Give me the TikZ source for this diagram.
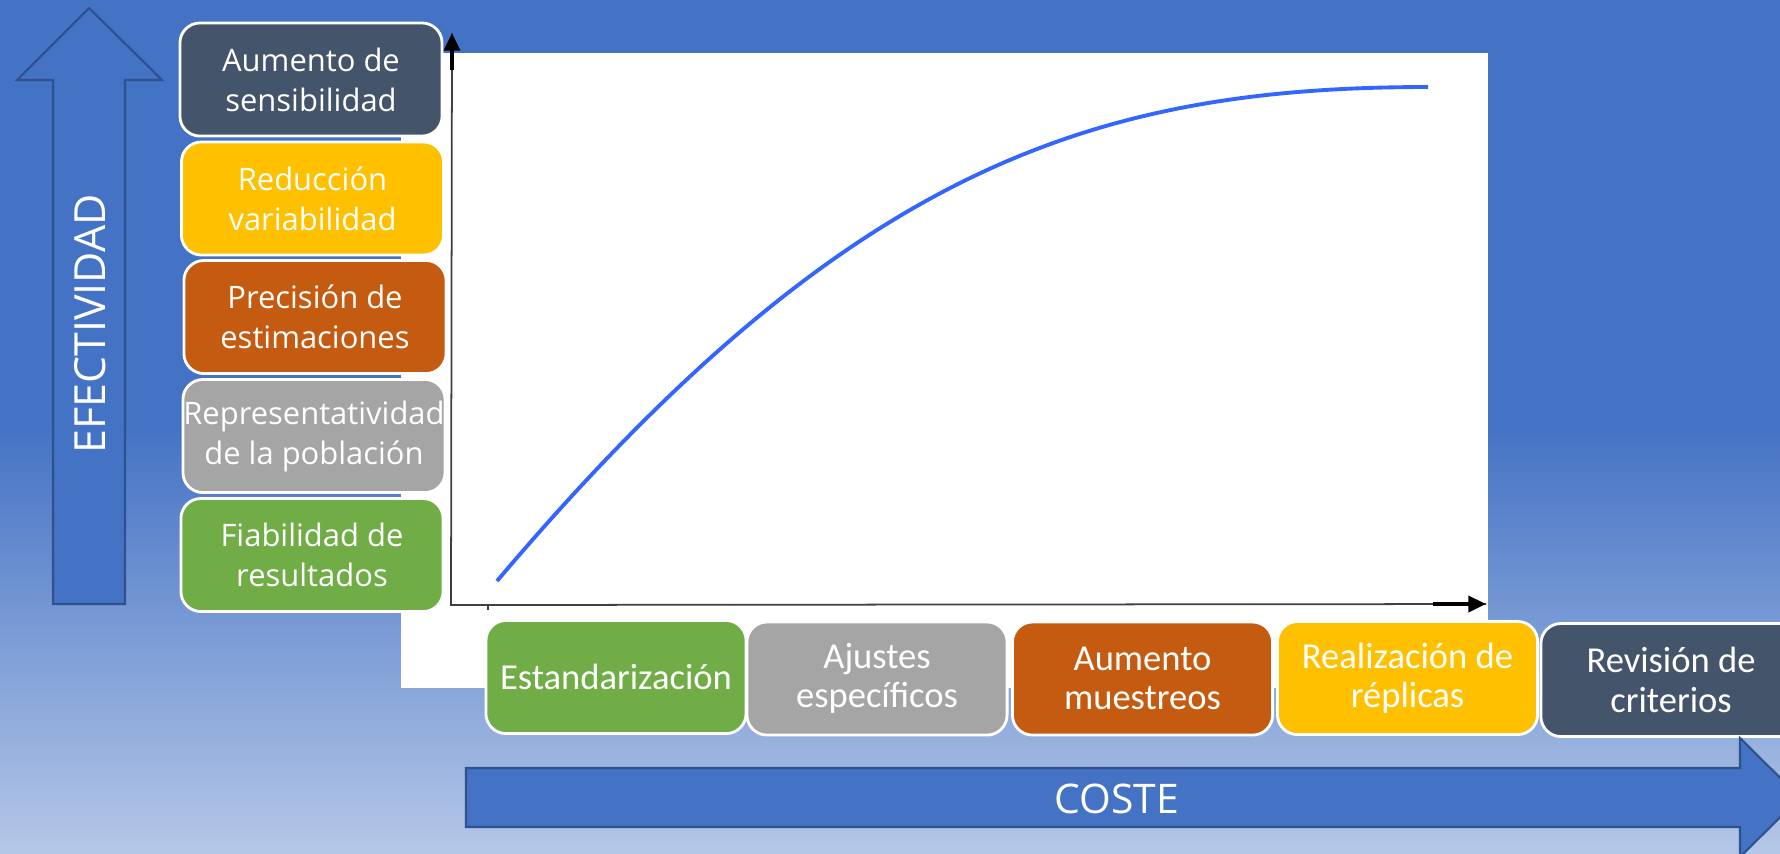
\documentclass[tikz,border=0pt]{standalone}
\usepackage{fontspec}
\setmainfont{Open Sans}
\newfontfamily\calfont{Carlito}
\usetikzlibrary{arrows.meta}

\definecolor{bgblue}{HTML}{4472C4}
\definecolor{bglight}{HTML}{B4C7E7}
\definecolor{edgeblue}{HTML}{2F528F}
\definecolor{boxdark}{HTML}{44546A}
\definecolor{boxgold}{HTML}{FFC000}
\definecolor{boxorange}{HTML}{C55A11}
\definecolor{boxgray}{HTML}{A5A5A5}
\definecolor{boxgreen}{HTML}{70AD47}
\definecolor{curveblue}{HTML}{3366FF}
\definecolor{axisgray}{HTML}{404040}

\tikzset{
  leftbox/.style={draw=white, line width=0.8pt, rounded corners=0.2cm, text=white,
    align=center, inner sep=0pt, minimum width=2.62cm, minimum height=1.13cm,
    font=\fontsize{8.8}{11.4}\selectfont},
  costbox/.style={draw=white, line width=0.8pt, rounded corners=0.2cm, text=white,
    align=center, inner sep=0pt, minimum width=2.6cm, minimum height=1.13cm,
    font=\calfont\fontsize{10.4}{11.2}\selectfont},
  bigarrow/.style={fill=bgblue, draw=edgeblue, line width=0.6pt}
}

\begin{document}
\begin{tikzpicture}[x=0.01cm, y=-0.01cm]
    \useasboundingbox (0,0) rectangle (1780,853);
    \clip (0,0) rectangle (1780,853);

    % background
    \fill[bgblue] (0,0) rectangle (1780,425);
    \shade[top color=bgblue, bottom color=bglight] (0,424) rectangle (1780,853);

    % plot area
    \fill[white] (401,53) rectangle (1488,688);

    \coordinate (O) at (451,605);
    \coordinate (Y) at (452,33);
    \coordinate (Yb) at (452,70);
    \coordinate (X) at (1486,604);
    \coordinate (Xb) at (1433,604);
    \coordinate (T) at (488,605);
    \draw[axisgray, line width=0.5pt] (Y) -- (O) -- (X);
    \draw[black, line width=1.1pt, -{Triangle[length=5pt,width=4.5pt]}] (Yb) -- (Y);
    \draw[black, line width=1.1pt, -{Triangle[length=5pt,width=4.5pt]}] (Xb) -- (X);
    \draw[axisgray, line width=0.5pt] (T) -- ++(0,5);

    \coordinate (P0) at (497,581);
    \coordinate (P3) at (1428,87);
    \draw[curveblue, line width=1.1pt] (P0) .. controls (845,170) and (1090,87) .. (P3);

    % effectiveness boxes
    \node[leftbox, fill=boxdark] (A) at (311,79.5) {Aumento de\\sensibilidad};
    \node[leftbox, fill=boxgold] (B) at (312.5,198.5) {Reducción\\variabilidad};
    \node[leftbox, fill=boxorange] (C) at (315,317) {Precisión de\\estimaciones};
    \node[leftbox, fill=boxgray] (D) at (314,436) {Representatividad\\de la población};
    \node[leftbox, fill=boxgreen] (E) at (312,555) {Fiabilidad de\\resultados};

    % cost boxes
    \node[costbox, fill=boxgreen] (F) at (616,677) {Estandarización};
    \node[costbox, fill=boxgray] (G) at (877,678.5) {Ajustes\\específicos};
    \node[costbox, fill=boxorange] (H) at (1142.5,678.5) {Aumento\\muestreos};
    \node[costbox, fill=boxgold] (I) at (1407.5,678) {Realización de\\réplicas};
    \node[costbox, fill=boxdark] (J) at (1671,680) {Revisión de\\criterios};

    % axis arrows
    \draw[bigarrow] (53,604) -- (53,80) -- (17,80) -- (89,8) -- (162,80) -- (125,80) -- (125,604) -- cycle;
    \node[text=white, rotate=90, font=\fontsize{12.2}{14}\selectfont] (K) at (90,324) {EFECTIVIDAD};

    \draw[bigarrow] (466,768) -- (1740,768) -- (1740,738) -- (1800,797.5) -- (1740,857) -- (1740,827) -- (466,827) -- cycle;
    \node[text=white, font=\fontsize{11.6}{14}\selectfont] (L) at (1117,799) {COSTE};
\end{tikzpicture}
\end{document}
